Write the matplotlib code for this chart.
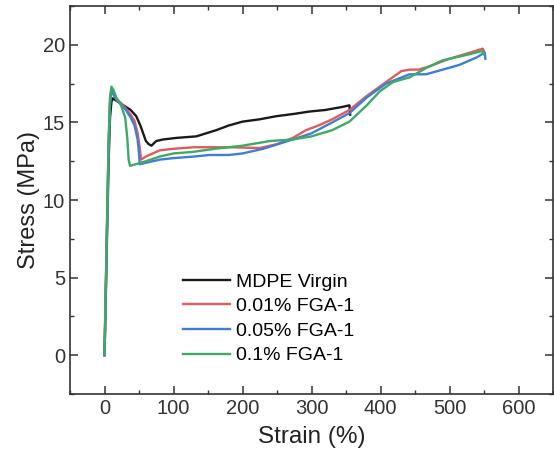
import matplotlib
matplotlib.use("Agg")
import matplotlib.pyplot as plt
from matplotlib.ticker import MultipleLocator

plt.rcParams['font.family'] = ['Liberation Sans', 'DejaVu Sans']

labels = ["MDPE Virgin", "0.01% FGA-1", "0.05% FGA-1", "0.1% FGA-1"]
colors = ["#1a1a1a", "#e45a5c", "#3d7fd6", "#3daa66"]

virgin_x = [0, 2, 4, 6, 8, 10, 12, 17, 24, 31, 38, 46, 52, 56, 60, 64, 68, 75, 85, 104, 133, 162, 180, 200, 225, 249, 275, 297, 320, 345, 355, 356]
virgin_y = [0, 4, 8.5, 12.5, 15.3, 16.3, 16.55, 16.4, 16.2, 16.0, 15.8, 15.4, 14.8, 14.3, 13.8, 13.6, 13.5, 13.8, 13.9, 14.0, 14.1, 14.5, 14.8, 15.05, 15.2, 15.4, 15.55, 15.7, 15.8, 16.0, 16.1, 15.5]

red_x = [0, 2, 4, 6, 8, 10, 13, 18, 25, 31, 38, 43.5, 48, 51, 53, 60, 70, 80, 100, 130, 147, 180, 225, 250, 273, 292, 310, 330, 355, 380, 408, 430, 442, 455, 470, 500, 530, 548, 550]
red_y = [0, 4.5, 9, 13.5, 16.3, 17.1, 16.9, 16.5, 16.2, 15.9, 15.5, 15.1, 14.3, 13.4, 12.6, 12.8, 13.0, 13.2, 13.3, 13.4, 13.4, 13.4, 13.35, 13.6, 14.0, 14.5, 14.8, 15.2, 15.8, 16.7, 17.6, 18.3, 18.4, 18.4, 18.6, 19.1, 19.5, 19.75, 19.6]

blue_x = [0, 2, 4, 6, 8, 10, 13, 18, 25, 31, 38, 43.5, 48, 50, 51, 60, 80, 100, 130, 152, 180, 200, 230, 273, 300, 330, 355, 380, 408, 442, 466, 490, 514, 540, 551, 552]
blue_y = [0, 4.5, 9, 13.5, 16.2, 17.0, 16.8, 16.4, 16.1, 15.8, 15.3, 14.8, 13.9, 13.0, 12.3, 12.4, 12.6, 12.7, 12.8, 12.9, 12.9, 13.0, 13.3, 13.9, 14.3, 15.0, 15.6, 16.6, 17.5, 18.1, 18.1, 18.4, 18.7, 19.2, 19.5, 19.1]

green_x = [0, 2, 4, 6, 8, 10, 13, 17, 24, 30, 33, 35, 37, 45, 60, 80, 100, 128, 160, 200, 240, 273, 300, 330, 355, 380, 399, 418, 442, 466, 490, 520, 548, 550]
green_y = [0, 4.8, 9.5, 14, 16.6, 17.3, 17.1, 16.6, 16.1, 15.3, 14.0, 12.6, 12.2, 12.3, 12.5, 12.8, 13.0, 13.1, 13.3, 13.5, 13.8, 13.9, 14.1, 14.5, 15.05, 16.1, 17.0, 17.6, 17.9, 18.5, 19.0, 19.3, 19.6, 19.4]

series_x = [virgin_x, red_x, blue_x, green_x]
series_y = [virgin_y, red_y, blue_y, green_y]

fig = plt.figure(figsize=(5.54, 4.61), dpi=100)
ax = fig.add_axes([70/554, 67/461, (553-70)/554, (394-6)/461])

for x, y, c, lab in zip(series_x, series_y, colors, labels):
    ax.plot(x, y, color=c, lw=1.7, label=lab)

ax.set_xlim(-50, 650)
ax.set_ylim(-2.5, 22.5)
ax.xaxis.set_major_locator(MultipleLocator(100))
ax.xaxis.set_minor_locator(MultipleLocator(50))
ax.yaxis.set_major_locator(MultipleLocator(5))
ax.yaxis.set_minor_locator(MultipleLocator(2.5))
ax.tick_params(which='both', direction='in', top=True, right=True, labelsize=14.5, colors='#333333', labelcolor='#333333')
ax.tick_params(which='major', length=6, width=1.1)
ax.tick_params(which='minor', length=3, width=1.0)
for s in ax.spines.values():
    s.set_linewidth(1.2)
    s.set_color('#333333')

ax.set_xlabel("Strain (%)", fontsize=17.5, color='#222222', labelpad=6)
ax.set_ylabel("Stress (MPa)", fontsize=17, color='#222222', labelpad=2)

leg = ax.legend(loc='lower left', bbox_to_anchor=(0.218, 0.056), frameon=False,
                fontsize=14, handlelength=2.4, handletextpad=0.3, labelspacing=0.36,
                borderaxespad=0)

fig.savefig("out.png", dpi=100)
